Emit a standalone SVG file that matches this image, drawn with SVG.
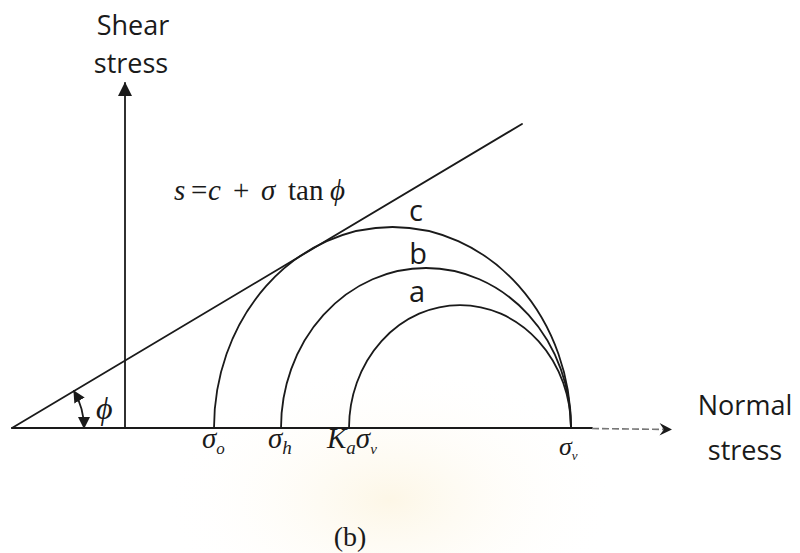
<svg xmlns="http://www.w3.org/2000/svg" width="800" height="553" viewBox="0 0 800 553">
  <defs>
    <marker id="tri" viewBox="0 0 12 12" refX="11" refY="6" markerWidth="12" markerHeight="12" markerUnits="userSpaceOnUse" orient="auto-start-reverse">
      <path d="M0,0 L12,6 L0,12 z" fill="#1a1a1a"/>
    </marker>
    <marker id="vtri" viewBox="0 0 14 14" refX="13" refY="7" markerWidth="14" markerHeight="14" markerUnits="userSpaceOnUse" orient="auto">
      <path d="M0,0 L14,7 L0,14 z" fill="#1a1a1a"/>
    </marker>
    <marker id="chev" viewBox="0 0 12 12" refX="11" refY="6" markerWidth="15" markerHeight="15" markerUnits="userSpaceOnUse" orient="auto">
      <path d="M1,1 L11,6 L1,11 L4.5,6 z" fill="#1a1a1a"/>
    </marker>
    <radialGradient id="wm" cx="0.5" cy="0.5" r="0.5">
      <stop offset="0" stop-color="#fcf3dc" stop-opacity="0.7"/>
      <stop offset="1" stop-color="#ffffff" stop-opacity="0"/>
    </radialGradient>
    <style>
      .ln { fill: none; stroke: #1a1a1a; stroke-width: 1.8; stroke-linecap: round; }
      .sans { font-family: "Open Sans", "DejaVu Sans", sans-serif; fill: #1a1a1a; }
      .ser { font-family: "Liberation Serif", "DejaVu Serif", serif; fill: #1a1a1a; }
      .it { font-style: italic; }
    </style>
  </defs>
  <rect width="800" height="553" fill="#ffffff"/>
  <ellipse cx="390" cy="500" rx="230" ry="140" fill="url(#wm)"/>

  <g id="connectors">
    <line class="ln" x1="125" y1="428" x2="125" y2="83" marker-end="url(#vtri)"/>
    <line class="ln" x1="12" y1="428" x2="592" y2="428"/>
    <line x1="592" y1="428.5" x2="672" y2="429.5" stroke="#777" stroke-width="1.6" stroke-dasharray="7 3" marker-end="url(#chev)"/>
    <line id="envelope" class="ln" x1="12" y1="428" x2="522" y2="124"/>
    <path id="phi-arc" class="ln" d="M 73.9 391.1 A 72 72 0 0 1 84 428" marker-start="url(#tri)" marker-end="url(#tri)"/>
  </g>

  <g id="circle-c">
    <path class="ln" d="M 214 428 A 178.5 201 0 0 1 571 428"/>
    <text class="sans" x="416" y="221" font-size="29" text-anchor="middle">c</text>
  </g>
  <g id="circle-b">
    <path class="ln" d="M 281 428 A 145 160 0 0 1 571 428"/>
    <text class="sans" x="418" y="264" font-size="29" text-anchor="middle">b</text>
  </g>
  <g id="circle-a">
    <path class="ln" d="M 349 428 A 111 123 0 0 1 571 428"/>
    <text class="sans" x="417" y="302" font-size="29" text-anchor="middle">a</text>
  </g>

  <g id="axis-labels">
    <text class="sans" x="133" y="35" font-size="27" text-anchor="middle">Shear</text>
    <text class="sans" x="131" y="73" font-size="27" text-anchor="middle">stress</text>
    <text class="sans" x="745" y="415" font-size="27" text-anchor="middle">Normal</text>
    <text class="sans" x="745" y="460" font-size="27" text-anchor="middle">stress</text>
  </g>

  <g id="equation">
    <text class="ser" y="200" font-size="29"><tspan class="it" x="174">s</tspan><tspan x="191">=</tspan><tspan class="it" x="208">c</tspan><tspan x="233">+</tspan><tspan class="it" x="261">σ</tspan><tspan x="288">tan</tspan><tspan class="it" x="330">ϕ</tspan></text>
  </g>

  <g id="angle-label">
    <text class="ser it" x="96" y="419" font-size="32">ϕ</text>
  </g>

  <g id="stress-labels">
    <text class="ser it" x="202" y="448" font-size="29">σ<tspan font-size="17" dy="6">o</tspan></text>
    <text class="ser it" x="268" y="448" font-size="29">σ<tspan font-size="19" dy="6">h</tspan></text>
    <text class="ser it" x="327" y="448" font-size="29">K<tspan font-size="19" dy="6">a</tspan><tspan dy="-6">σ</tspan><tspan font-size="15" dy="6">v</tspan></text>
    <text class="ser it" x="559" y="455" font-size="26">σ<tspan font-size="13" dy="5">v</tspan></text>
  </g>

  <g id="caption">
    <text class="ser" x="350" y="546" font-size="28" text-anchor="middle">(b)</text>
  </g>
</svg>
